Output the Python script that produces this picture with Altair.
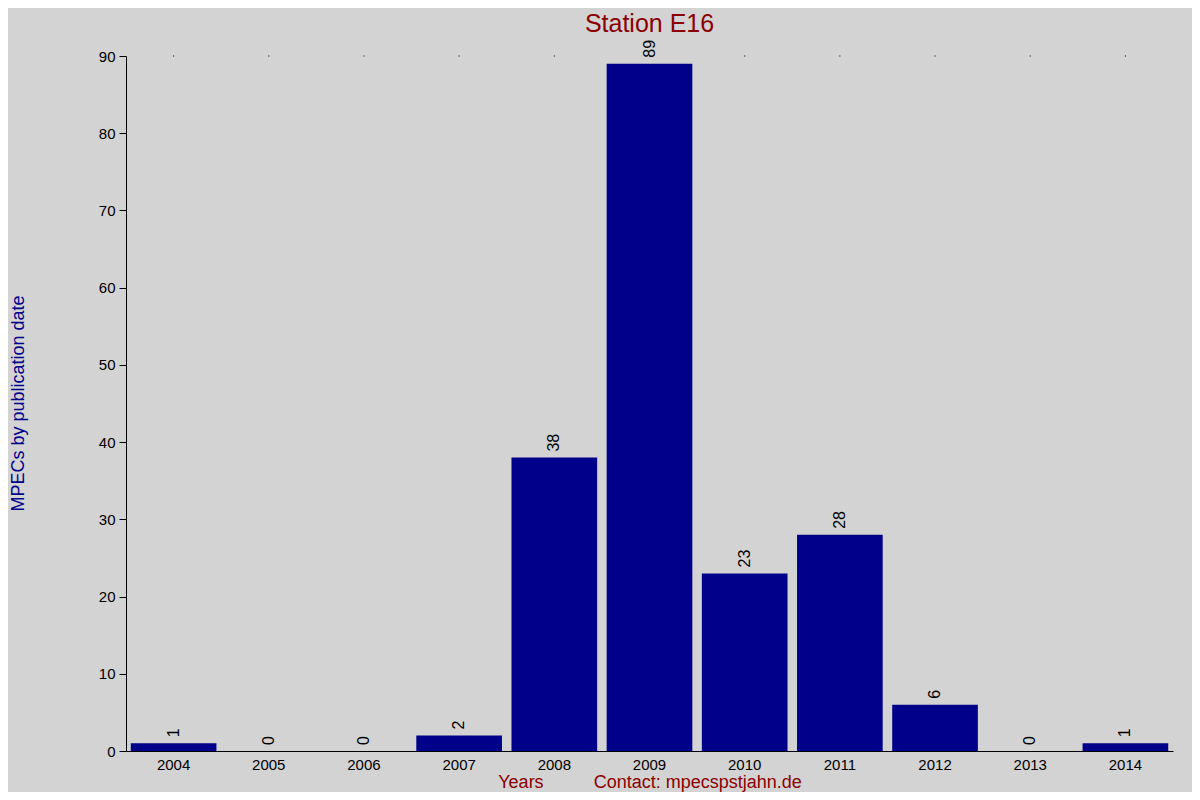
import pandas as pd
import altair as alt

# Werte
jahre = ["2004", "2005", "2006", "2007", "2008", "2009", "2010", "2011", "2012", "2013", "2014"]
mpecs = [1, 0, 0, 2, 38, 89, 23, 28, 6, 0, 1]
y_ticks = [0, 10, 20, 30, 40, 50, 60, 70, 80, 90]

df = pd.DataFrame({"Jahr": jahre, "MPECs": mpecs})
df["Top"] = 90

FONT = "Liberation Sans"
NBSP = "\u00a0"

x_enc = alt.X(
    "Jahr:N",
    sort=None,
    scale=alt.Scale(paddingInner=0.1, paddingOuter=0.05),
    axis=alt.Axis(
        title="Years" + NBSP * 10 + "Contact:" + NBSP + "mpecspstjahn.de",
        titleColor="#8b0000",
        titleFontSize=18,
        titleFontWeight="normal",
        titleFont=FONT,
        titlePadding=1,
        labelAngle=0,
        labelFont=FONT,
        labelFontSize=15,
        labelColor="black",
        labelPadding=6,
        ticks=False,
        domainColor="black",
        grid=False,
    ),
)

y_scale = alt.Scale(domain=[0, 90], nice=False)

bars = alt.Chart(df).mark_bar(color="#00008b").encode(
    x=x_enc,
    y=alt.Y(
        "MPECs:Q",
        scale=y_scale,
        axis=alt.Axis(
            title="MPECs by publication date",
            titleColor="#00008b",
            titleFontSize=18,
            titleFontWeight="normal",
            titleFont=FONT,
            titleAngle=-90,
            titleX=-108,
            titleY=347,
            titleAlign="center",
            titleBaseline="middle",
            values=y_ticks,
            labelFont=FONT,
            labelFontSize=15,
            labelColor="black",
            labelPadding=4,
            tickSize=7,
            tickColor="black",
            domainColor="black",
            grid=False,
        ),
    ),
)

labels = alt.Chart(df).mark_text(
    angle=270, align="left", baseline="middle", dx=6, font=FONT, fontSize=16, color="black"
).encode(
    x=alt.X("Jahr:N", sort=None),
    y=alt.Y("MPECs:Q", scale=y_scale),
    text="MPECs:Q",
)

# kleine Punkte oben an jeder Kategorie
dots = alt.Chart(df).mark_square(size=1, color="black", opacity=1).encode(
    x=alt.X("Jahr:N", sort=None),
    y=alt.Y("Top:Q", scale=y_scale),
)

chart = (
    alt.layer(bars, labels, dots)
    .properties(
        width=1047,
        height=695,
        autosize=alt.AutoSizeParams(type="none"),
        padding={"left": 118, "top": 48, "right": 19, "bottom": 41},
        background="#d3d3d3",
        title=alt.TitleParams(
            "Station E16",
            color="#8b0000",
            fontSize=25,
            fontWeight="normal",
            font=FONT,
            anchor="middle",
            offset=3,
        ),
    )
    .configure_view(stroke=None)
)

chart.save("out.html", embed_options={"renderer": "svg", "actions": False})
